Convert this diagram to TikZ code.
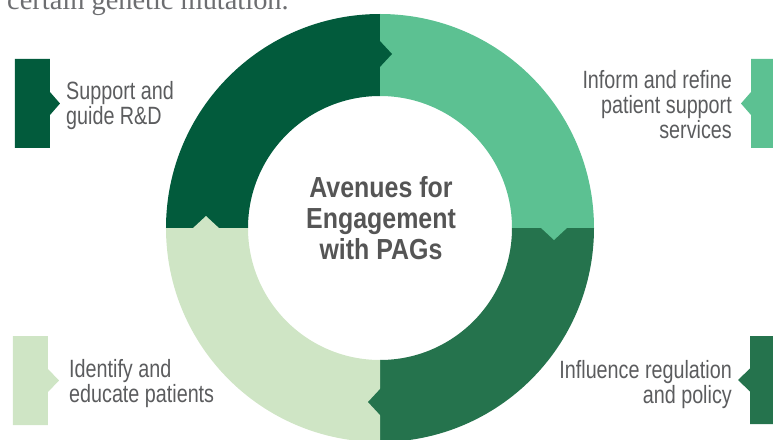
\documentclass[tikz,border=0pt]{standalone}
\usepackage{fontspec}
\setmainfont{Liberation Serif}
\newfontfamily\condfont[FakeStretch=0.79]{Liberation Sans}
\newfontfamily\headfont[FakeStretch=0.86]{Liberation Sans}
\usepackage{xcolor}

\definecolor{rdgreen}{HTML}{025B3C}
\definecolor{servgreen}{HTML}{5CC192}
\definecolor{policygreen}{HTML}{25734D}
\definecolor{patientgreen}{HTML}{CFE5C5}
\definecolor{labelgray}{HTML}{5B5C5E}
\definecolor{headgray}{HTML}{555555}
\definecolor{introgray}{HTML}{6D6E71}

\begin{document}
\begin{tikzpicture}[
    x=1pt, y=1pt,
    avenue/.style={font=\condfont\fontsize{25}{25}\selectfont, text=labelgray, inner sep=0pt},
    heading/.style={font=\headfont\bfseries\fontsize{29}{31}\selectfont, text=headgray, align=center, inner sep=0pt}
]
\useasboundingbox (-380,-211) rectangle (393,228);

% Running text above (cut off by the page)
\node[anchor=base west, font=\fontsize{28.4}{30}\selectfont, text=introgray, inner sep=0pt] (intro) at (-373,218) {certain genetic mutation.};

% Ring segments
\fill[rdgreen] (90:214) arc[start angle=90, end angle=180, radius=214] -- (180:132) arc[start angle=180, end angle=90, radius=132] -- cycle;
\fill[servgreen] (0:214) arc[start angle=0, end angle=90, radius=214] -- (90:132) arc[start angle=90, end angle=0, radius=132] -- cycle;
\fill[policygreen] (270:214) arc[start angle=270, end angle=360, radius=214] -- (0:132) arc[start angle=360, end angle=270, radius=132] -- cycle;
\fill[patientgreen] (180:214) arc[start angle=180, end angle=270, radius=214] -- (270:132) arc[start angle=270, end angle=180, radius=132] -- cycle;

% Tabs pointing clockwise into the next segment
\fill[rdgreen] (-1,160) -- (12,174) -- (-1,188) -- cycle;
\fill[servgreen] (160,1) -- (174,-12) -- (188,1) -- cycle;
\fill[policygreen] (1,-160) -- (-12,-174) -- (1,-188) -- cycle;
\fill[patientgreen] (-160,-1) -- (-174,12) -- (-188,-1) -- cycle;

% Centre
\node[heading] (avenues) at (1,10) {Avenues for\\Engagement\\with PAGs};

% Side markers
\fill[rdgreen] (-365,80) -- (-330,80) -- (-330,113) -- (-320,124.5) -- (-330,136) -- (-330,169) -- (-365,169) -- cycle;
\fill[servgreen] (406,80) -- (371,80) -- (371,113) -- (361,124.5) -- (371,136) -- (371,169) -- (406,169) -- cycle;
\fill[policygreen] (405,-196) -- (370,-196) -- (370,-163.5) -- (358,-152) -- (370,-140.5) -- (370,-108) -- (405,-108) -- cycle;
\fill[patientgreen] (-367,-197) -- (-332,-197) -- (-332,-164) -- (-321,-152.5) -- (-332,-141) -- (-332,-108) -- (-367,-108) -- cycle;

% Labels
\node[avenue, anchor=west, align=left] (rnd) at (-314,122.6) {Support and\\guide R\&D};
\node[avenue, anchor=east, align=right] (services) at (352,123.6) {Inform and refine\\patient support\\services};
\node[avenue, anchor=east, align=right] (policy) at (352,-156.4) {Influence regulation\\and policy};
\node[avenue, anchor=west, align=left] (patients) at (-311,-155.4) {Identify and\\educate patients};

\end{tikzpicture}
\end{document}
